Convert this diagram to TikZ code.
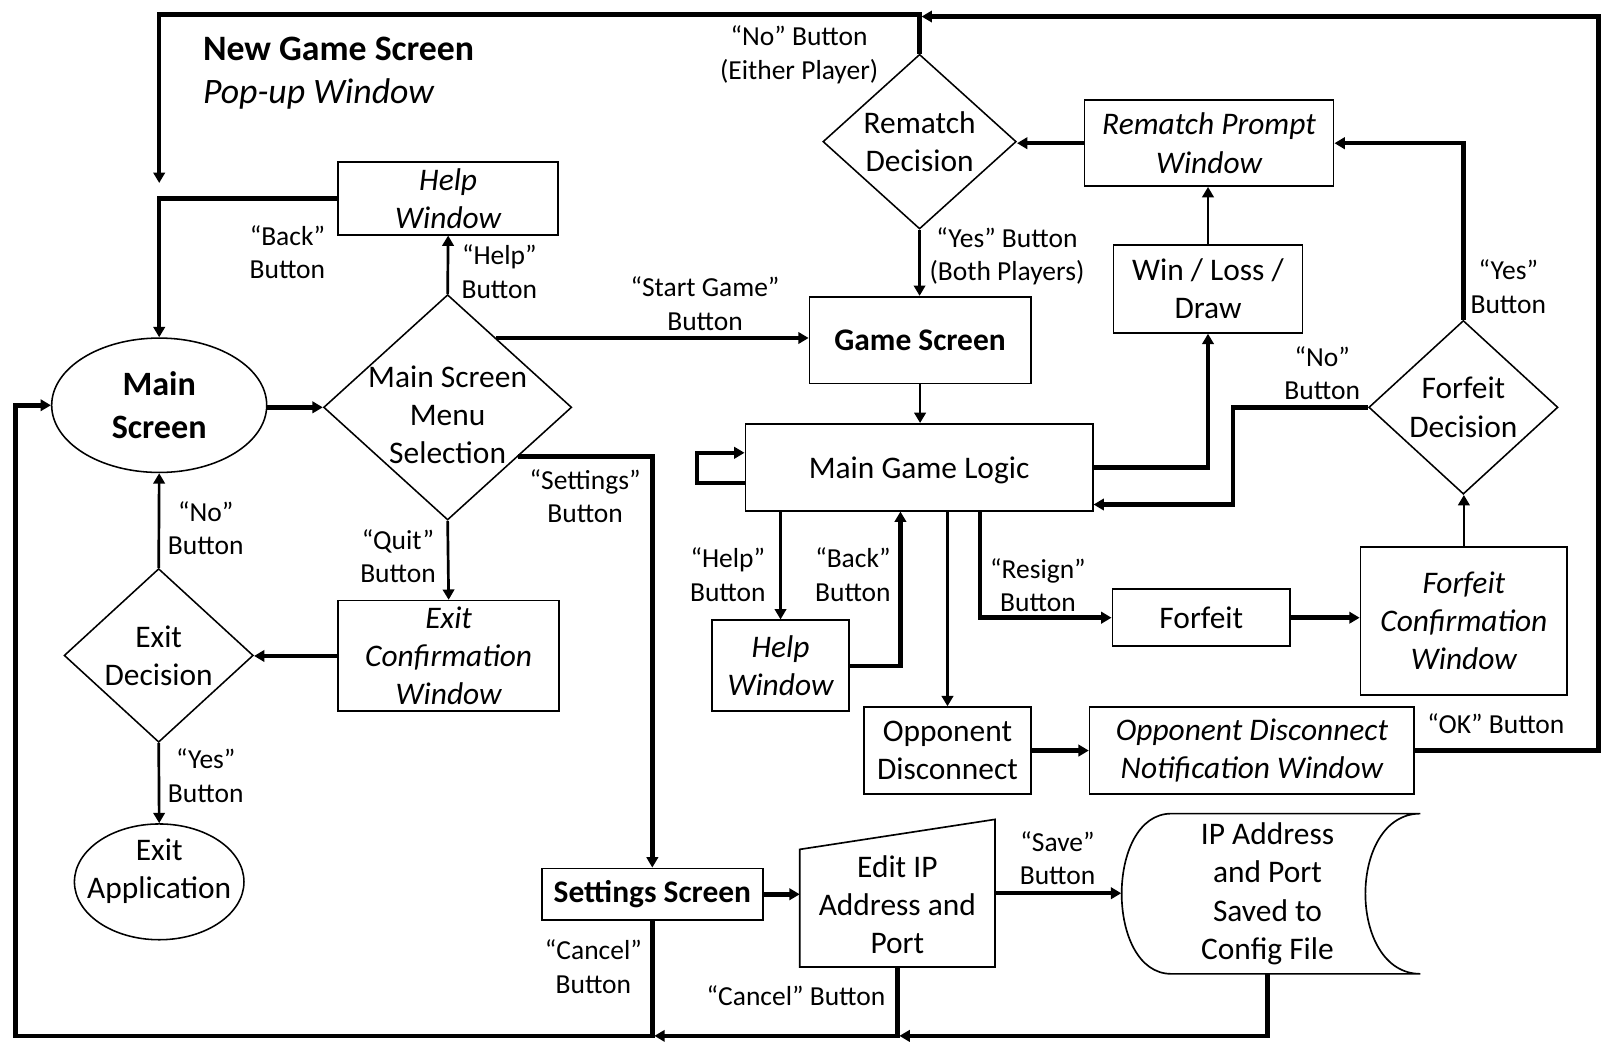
\documentclass[tikz,border=0pt]{standalone}
\usepackage{fontspec}
\setmainfont{Carlito}
\usetikzlibrary{arrows.meta,positioning,calc,shapes.geometric}
\newcommand\nodefont{\fontsize{15.2pt}{18.5pt}\selectfont}
\newcommand\lblfont{\fontsize{13.3pt}{16.3pt}\selectfont}
\newcommand\titlefont{\fontsize{17.3pt}{21pt}\selectfont}
\newcommand\bigfont{\fontsize{16.5pt}{20.5pt}\selectfont}
\tikzset{
  box/.style={draw=black, line width=0.8pt, align=center, inner sep=0pt, font=\nodefont},
  screenbox/.style={box, font=\nodefont\bfseries},
  windowbox/.style={box, font=\nodefont\itshape},
  decision/.style={draw=black, diamond, line width=0.75pt, inner sep=0pt},
  terminal/.style={draw=black, ellipse, line width=0.75pt, inner sep=0pt, align=center, font=\nodefont},
  dtext/.style={align=center, inner sep=0pt, font=\nodefont},
  lbl/.style={align=center, inner sep=0pt, font=\lblfont},
  outline/.style={draw=black, line width=0.8pt},
  arrow/.style={-{Triangle[length=5pt, width=5.5pt]}, line width=2.2pt},
  thinarrow/.style={-{Triangle[length=5pt, width=5.5pt]}, line width=1.3pt}
}

\begin{document}
\begin{tikzpicture}[x=0.5pt, y=-0.5pt]
  \useasboundingbox (0,0) rectangle (1568,1024);
  % main menu side
  \node[anchor=west, align=left, inner sep=0pt, font=\titlefont] (title) at (196,71) {\textbf{New Game Screen}\\\textit{Pop-up Window}};
  \node[terminal, font=\bigfont\bfseries, minimum width=104pt, minimum height=65pt] (main) at (154,392) {Main\\Screen};
  \node[decision, minimum width=120pt, minimum height=109pt, label={[dtext, yshift=-3.5pt]center:Main Screen\\Menu\\Selection}] (menu) at (433,394) {};
  \node[windowbox, minimum width=106.5pt, minimum height=35pt] (helpmain) at (433.5,192) {Help\\Window};
  \node[windowbox, minimum width=107pt, minimum height=53.5pt] (exitconf) at (434,634.5) {Exit\\Confirmation\\Window};
  \node[decision, minimum width=91.5pt, minimum height=84pt, label={[dtext]center:Exit\\Decision}] (exitdec) at (153.5,634) {};
  \node[terminal, minimum width=82pt, minimum height=56pt, label={[dtext, yshift=5pt]center:Exit\\Application}] (exitapp) at (154,853) {};
  \node[screenbox, minimum width=107pt, minimum height=25pt] (settings) at (631,865) {Settings Screen};
  \node[minimum width=94pt, minimum height=71pt, label={[dtext, yshift=-5.5pt]center:Edit IP\\Address and\\Port}] (editip) at (868,864) {};
  \node[minimum width=141pt, minimum height=77.5pt, label={[dtext]center:IP Address\\and Port\\Saved to\\Config File}] (ipfile) at (1226,864.5) {};
  \draw[outline] (editip.south west) -- ($(editip.north west)+(0,29)$) -- (editip.north east) -- (editip.south east) -- cycle;
  \draw[outline] (1133,787) -- (1374,787) .. controls (1303,787) and (1303,942) .. (1374,942)
    -- (1133,942) .. controls (1069,942) and (1069,787) .. (1133,787) -- cycle;

  % game side
  \node[screenbox, minimum width=107pt, minimum height=42pt] (game) at (890,329) {Game Screen};
  \node[box, minimum width=168pt, minimum height=42pt, text depth=0pt] (logic) at (889,452) {Main Game Logic};
  \node[decision, minimum width=93.5pt, minimum height=84.5pt, label={[dtext]center:Rematch\\Decision}] (remdec) at (889.5,137) {};
  \node[windowbox, minimum width=120.5pt, minimum height=41.5pt] (remprompt) at (1169.5,138.5) {Rematch Prompt\\Window};
  \node[box, minimum width=91.5pt, minimum height=42.5pt] (winloss) at (1168.5,279.5) {Win / Loss /\\Draw};
  \node[decision, minimum width=91.5pt, minimum height=84pt, label={[dtext]center:Forfeit\\Decision}] (fdec) at (1415.5,394) {};
  \node[box, minimum width=86pt, minimum height=27.5pt] (forfeit) at (1162,597.5) {Forfeit};
  \node[windowbox, minimum width=100pt, minimum height=71.5pt] (fconf) at (1416,600.5) {Forfeit\\Confirmation\\Window};
  \node[windowbox, minimum width=66pt, minimum height=44pt] (helpgame) at (755,644) {Help\\Window};
  \node[box, minimum width=80.5pt, minimum height=42pt] (opp) at (916.5,726) {Opponent\\Disconnect};
  \node[windowbox, minimum width=157pt, minimum height=42pt] (notify) at (1211,726) {Opponent Disconnect\\Notification Window};
  \coordinate (newgame) at (154,177);
  \coordinate (okcorner) at (1546,16);
  \coordinate (bottomline) at (631,1002);

  % connectors, main menu
  \draw[arrow] (menu.west -| main.east) -- (menu.west);
  \draw[thinarrow] (menu.north) -- (helpmain.south);
  \draw[arrow] (helpmain.west) -| (main.north);
  \draw[arrow] (menu.55) -- (menu.55 -| game.west);
  \draw[arrow] (menu.-35) -| (settings.north);
  \draw[thinarrow] (menu.south) -- (exitconf.north);
  \draw[arrow] (exitconf.west) -- (exitconf.west -| exitdec.east);
  \draw[thinarrow] (exitdec.north) -- (main.south);
  \draw[thinarrow] (exitdec.south) -- (exitapp.north);
  \draw[arrow] (settings.east) -- (settings.east -| editip.west);
  \draw[arrow] (editip.east) -- (editip.east -| ipfile.west);
  \draw[arrow] (settings.south) |- (15,1002) |- (main.west);
  \draw[arrow] (editip.south) |- ($(bottomline)+(2,0)$);
  \draw[arrow] (ipfile.south) |- ($(editip.south |- bottomline)+(2,0)$);
  \node[lbl] (lblhelp) at (483,263) {“Help”\\Button};
  \node[lbl] (lblback) at (278,244) {“Back”\\Button};
  \node[lbl] (lblstart) at (682,294) {“Start Game”\\Button};
  \node[lbl] (lblsettings) at (566,480) {“Settings”\\Button};
  \node[lbl] (lblquit) at (385,538) {“Quit”\\Button};
  \node[lbl] (lblno) at (199,511) {“No”\\Button};
  \node[lbl] (lblyes) at (199,750) {“Yes”\\Button};
  \node[lbl] (lblsave) at (1023,830) {“Save”\\Button};
  \node[lbl] (lblcancel) at (574,935) {“Cancel”\\Button};
  \node[lbl] (lblcancelip) at (770,963) {“Cancel” Button};

  % connectors, game
  \draw[arrow] (remdec.north) |- (newgame |- 0,14) -- (newgame);
  \draw[arrow] (notify.east) -| (okcorner) -- ($(remdec.north |- okcorner)+(2,0)$);
  \draw[thinarrow] (remdec.south) -- (remdec.south |- game.north);
  \draw[arrow] (remprompt.west) -- (remprompt.west -| remdec.east);
  \draw[thinarrow] (winloss.north) -- (winloss.north |- remprompt.south);
  \draw[thinarrow] (game.south) -- (game.south |- logic.north);
  \draw[arrow] (logic.east) -| (winloss.south);
  \draw[arrow] (fdec.west) -| ($(logic.east)+(135,36)$) -- ($(logic.east)+(0,36)$);
  \draw[arrow] (fdec.north) |- (remprompt.east);
  \draw[thinarrow] (fconf.north) -- (fconf.north |- fdec.south);
  \draw[arrow] (forfeit.east) -- (forfeit.east -| fconf.west);
  \draw[arrow] ($(logic.south)+(59,0)$) |- (forfeit.west);
  \draw[thinarrow] (opp.north |- logic.south) -- (opp.north);
  \draw[thinarrow] (helpgame.north |- logic.south) -- (helpgame.north);
  \draw[arrow] (helpgame.east) -| ($(logic.south)+(-18,0)$);
  \draw[arrow] ([yshift=-7.5pt]logic.west) -- ++(-46,0) |- ([yshift=7pt]logic.west);
  \draw[arrow] (opp.east) -- (notify.west);
  \node[lbl] (lblnoeither) at (773,53) {“No” Button\\(Either Player)};
  \node[lbl] (lblyesboth) at (974,248) {“Yes” Button\\(Both Players)};
  \node[lbl] (lblok) at (1447,700) {“OK” Button};
  \node[lbl] (lblfno) at (1279,361) {“No”\\Button};
  \node[lbl] (lblfyes) at (1459,277) {“Yes”\\Button};
  \node[lbl] (lblresign) at (1004,566) {“Resign”\\Button};
  \node[lbl] (lblhelpgame) at (704,556) {“Help”\\Button};
  \node[lbl] (lblbackgame) at (825,556) {“Back”\\Button};
\end{tikzpicture}
\end{document}
